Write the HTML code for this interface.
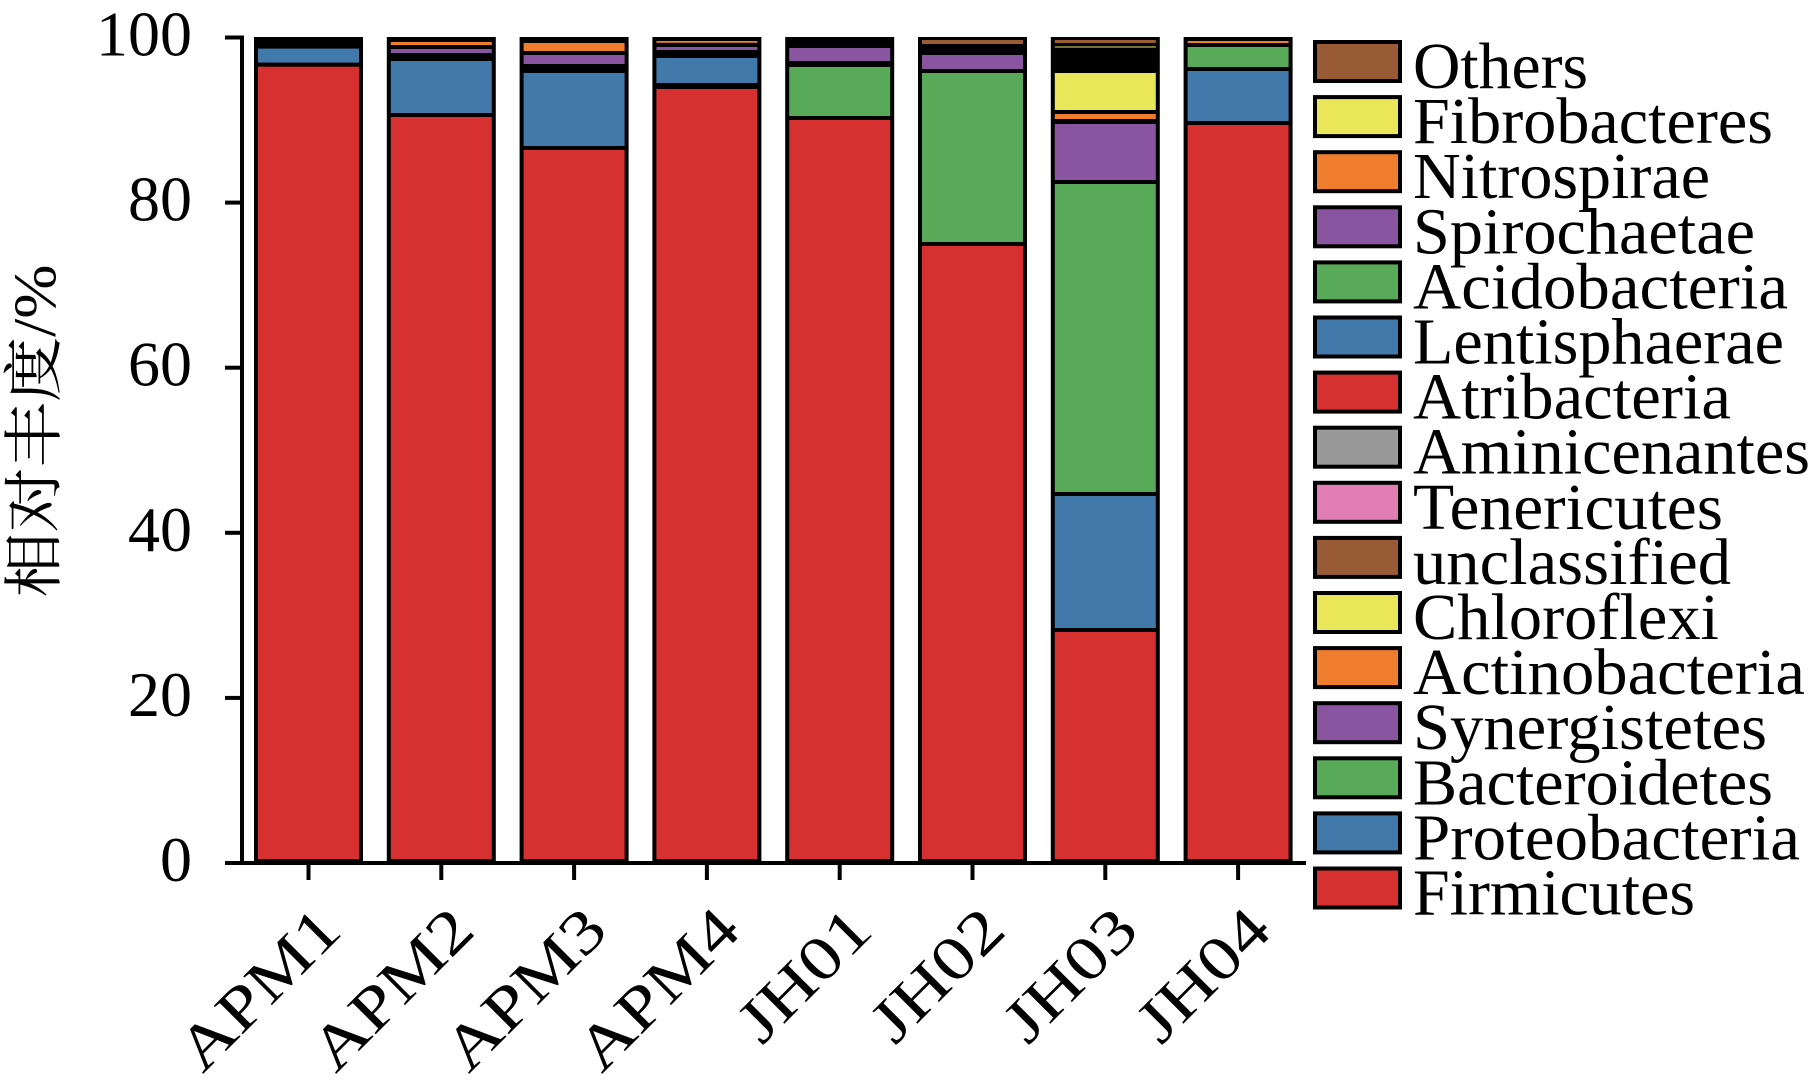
<!DOCTYPE html>
<html><head><meta charset="utf-8"><style>html,body{margin:0;padding:0;background:#fff}svg{display:block}</style></head>
<body>
<svg width="1813" height="1087" viewBox="0 0 1813 1087" xmlns="http://www.w3.org/2000/svg" font-family="Liberation Serif, serif">
<rect width="1813" height="1087" fill="#fff"/>
<g id="bars">
<rect x="254" y="37" width="109" height="826" fill="#000"/>
<rect x="258" y="66.7" width="101" height="792.3" fill="#d63030"/>
<rect x="258" y="48.6" width="101" height="14" fill="#4279ab"/>
<rect x="386.8" y="37" width="109" height="826" fill="#000"/>
<rect x="390.8" y="117" width="101" height="742" fill="#d63030"/>
<rect x="390.8" y="61" width="101" height="52" fill="#4279ab"/>
<rect x="390.8" y="49" width="101" height="4" fill="#8a55a0"/>
<rect x="390.8" y="42" width="101" height="3" fill="#f07d2e"/>
<rect x="519.6" y="37" width="109" height="826" fill="#000"/>
<rect x="523.6" y="150" width="101" height="709" fill="#d63030"/>
<rect x="523.6" y="73" width="101" height="73" fill="#4279ab"/>
<rect x="523.6" y="55" width="101" height="9" fill="#8a55a0"/>
<rect x="523.6" y="43" width="101" height="8" fill="#f07d2e"/>
<rect x="652.4" y="37" width="109" height="826" fill="#000"/>
<rect x="656.4" y="89" width="101" height="770" fill="#d63030"/>
<rect x="656.4" y="58" width="101" height="25" fill="#4279ab"/>
<rect x="656.4" y="47" width="101" height="3" fill="#8a55a0"/>
<rect x="656.4" y="41" width="101" height="1.8" fill="#f07d2e"/>
<rect x="785.2" y="37" width="109" height="826" fill="#000"/>
<rect x="789.2" y="120" width="101" height="739" fill="#d63030"/>
<rect x="789.2" y="67" width="101" height="49" fill="#58aa58"/>
<rect x="789.2" y="48" width="101" height="13" fill="#8a55a0"/>
<rect x="918" y="37" width="109" height="826" fill="#000"/>
<rect x="922" y="246" width="101" height="613" fill="#d63030"/>
<rect x="922" y="73" width="101" height="169" fill="#58aa58"/>
<rect x="922" y="55" width="101" height="14" fill="#8a55a0"/>
<rect x="922" y="40" width="101" height="4" fill="#995a36"/>
<rect x="1050.8" y="37" width="109" height="826" fill="#000"/>
<rect x="1054.8" y="632" width="101" height="227" fill="#d63030"/>
<rect x="1054.8" y="496" width="101" height="132" fill="#4279ab"/>
<rect x="1054.8" y="184" width="101" height="308" fill="#58aa58"/>
<rect x="1054.8" y="124" width="101" height="56" fill="#8a55a0"/>
<rect x="1054.8" y="114" width="101" height="5" fill="#f07d2e"/>
<rect x="1054.8" y="73" width="101" height="37" fill="#eae65a"/>
<rect x="1054.8" y="46.5" width="101" height="1" fill="#eae65a"/>
<rect x="1054.8" y="40" width="101" height="3" fill="#995a36"/>
<rect x="1183.6" y="37" width="109" height="826" fill="#000"/>
<rect x="1187.6" y="125" width="101" height="734" fill="#d63030"/>
<rect x="1187.6" y="71" width="101" height="50" fill="#4279ab"/>
<rect x="1187.6" y="47" width="101" height="20" fill="#58aa58"/>
<rect x="1187.6" y="41" width="101" height="2" fill="#f07d2e"/>
</g>
<rect x="240" y="35.5" width="4" height="829.5" fill="#000"/>
<rect x="225" y="861" width="1081" height="4" fill="#000"/>
<g fill="#000">
<rect x="225" y="35.5" width="17" height="4"/>
<rect x="225" y="200.6" width="17" height="4"/>
<rect x="225" y="365.7" width="17" height="4"/>
<rect x="225" y="530.8" width="17" height="4"/>
<rect x="225" y="695.9" width="17" height="4"/>
<rect x="306.5" y="863" width="4" height="17"/>
<rect x="439.3" y="863" width="4" height="17"/>
<rect x="572.1" y="863" width="4" height="17"/>
<rect x="704.9" y="863" width="4" height="17"/>
<rect x="837.7" y="863" width="4" height="17"/>
<rect x="970.5" y="863" width="4" height="17"/>
<rect x="1103.3" y="863" width="4" height="17"/>
<rect x="1236.1" y="863" width="4" height="17"/>
</g>
<g font-size="64" text-anchor="end" fill="#000">
<text x="192" y="55.5">100</text>
<text x="192" y="220.6">80</text>
<text x="192" y="385.7">60</text>
<text x="192" y="550.8">40</text>
<text x="192" y="715.9">20</text>
<text x="192" y="881">0</text>
</g>
<text transform="translate(55,431) rotate(-90)" font-size="60" text-anchor="middle" textLength="333" lengthAdjust="spacingAndGlyphs" font-family="Liberation Serif, Noto Serif CJK SC, serif">相对丰度/%</text>
<g font-size="62" text-anchor="end" fill="#000">
<text transform="translate(344,933) rotate(-45)" textLength="200" lengthAdjust="spacingAndGlyphs">APM1</text>
<text transform="translate(477,933) rotate(-45)" textLength="200" lengthAdjust="spacingAndGlyphs">APM2</text>
<text transform="translate(610,933) rotate(-45)" textLength="200" lengthAdjust="spacingAndGlyphs">APM3</text>
<text transform="translate(743,933) rotate(-45)" textLength="200" lengthAdjust="spacingAndGlyphs">APM4</text>
<text transform="translate(875,933) rotate(-45)" textLength="160" lengthAdjust="spacingAndGlyphs">JH01</text>
<text transform="translate(1008,933) rotate(-45)" textLength="160" lengthAdjust="spacingAndGlyphs">JH02</text>
<text transform="translate(1141,933) rotate(-45)" textLength="160" lengthAdjust="spacingAndGlyphs">JH03</text>
<text transform="translate(1274,933) rotate(-45)" textLength="160" lengthAdjust="spacingAndGlyphs">JH04</text>
</g>
<g stroke="#000" stroke-width="4">
<rect x="1315" y="42" width="85" height="39" fill="#995a36"/>
<rect x="1315" y="97.1" width="85" height="39" fill="#eae65a"/>
<rect x="1315" y="152.2" width="85" height="39" fill="#f07d2e"/>
<rect x="1315" y="207.3" width="85" height="39" fill="#8a55a0"/>
<rect x="1315" y="262.4" width="85" height="39" fill="#58aa58"/>
<rect x="1315" y="317.5" width="85" height="39" fill="#4279ab"/>
<rect x="1315" y="372.6" width="85" height="39" fill="#d63030"/>
<rect x="1315" y="427.7" width="85" height="39" fill="#999999"/>
<rect x="1315" y="482.8" width="85" height="39" fill="#e17fb5"/>
<rect x="1315" y="537.9" width="85" height="39" fill="#995a36"/>
<rect x="1315" y="593" width="85" height="39" fill="#eae65a"/>
<rect x="1315" y="648.1" width="85" height="39" fill="#f07d2e"/>
<rect x="1315" y="703.2" width="85" height="39" fill="#8a55a0"/>
<rect x="1315" y="758.3" width="85" height="39" fill="#58aa58"/>
<rect x="1315" y="813.4" width="85" height="39" fill="#4279ab"/>
<rect x="1315" y="868.5" width="85" height="39" fill="#d63030"/>
</g>
<g font-size="66" fill="#000">
<text x="1413" y="88" textLength="175" lengthAdjust="spacingAndGlyphs">Others</text>
<text x="1413" y="143.1" textLength="360" lengthAdjust="spacingAndGlyphs">Fibrobacteres</text>
<text x="1413" y="198.2" textLength="297" lengthAdjust="spacingAndGlyphs">Nitrospirae</text>
<text x="1413" y="253.3" textLength="342" lengthAdjust="spacingAndGlyphs">Spirochaetae</text>
<text x="1413" y="308.4" textLength="375" lengthAdjust="spacingAndGlyphs">Acidobacteria</text>
<text x="1413" y="363.5" textLength="371" lengthAdjust="spacingAndGlyphs">Lentisphaerae</text>
<text x="1413" y="418.6" textLength="318" lengthAdjust="spacingAndGlyphs">Atribacteria</text>
<text x="1413" y="473.7" textLength="397" lengthAdjust="spacingAndGlyphs">Aminicenantes</text>
<text x="1413" y="528.8" textLength="310" lengthAdjust="spacingAndGlyphs">Tenericutes</text>
<text x="1413" y="583.9" textLength="318" lengthAdjust="spacingAndGlyphs">unclassified</text>
<text x="1413" y="639" textLength="306" lengthAdjust="spacingAndGlyphs">Chloroflexi</text>
<text x="1413" y="694.1" textLength="392" lengthAdjust="spacingAndGlyphs">Actinobacteria</text>
<text x="1413" y="749.2" textLength="354" lengthAdjust="spacingAndGlyphs">Synergistetes</text>
<text x="1413" y="804.3" textLength="360" lengthAdjust="spacingAndGlyphs">Bacteroidetes</text>
<text x="1413" y="859.4" textLength="387" lengthAdjust="spacingAndGlyphs">Proteobacteria</text>
<text x="1413" y="914.5" textLength="282" lengthAdjust="spacingAndGlyphs">Firmicutes</text>
</g>
</svg>
</body></html>
